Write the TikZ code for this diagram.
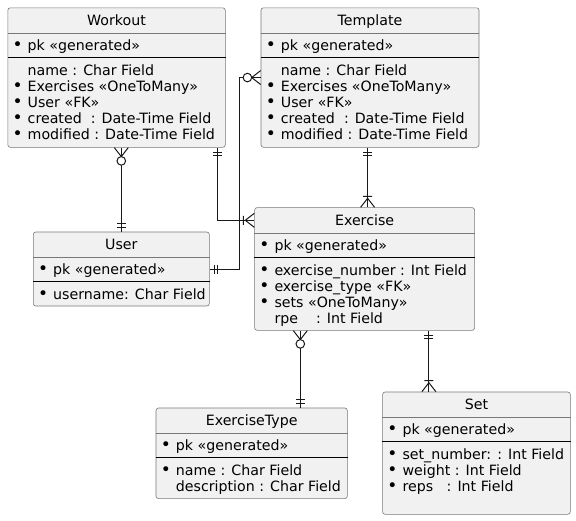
\documentclass[tikz,border=0pt]{standalone}
\usepackage{fontspec}
\setmainfont{DejaVu Sans}
\usetikzlibrary{positioning,calc}
\definecolor{erfill}{RGB}{241,241,241}
\definecolor{erline}{RGB}{24,24,24}
\definecolor{erborder}{RGB}{120,120,120}
\tikzset{
  er entity/.style={
    draw=erborder,
    fill=erfill,
    line width=0.6pt,
    rounded corners=2.5pt,
    inner sep=0pt,
  },
  er title/.style={anchor=base, inner sep=0pt, font=\fontsize{14.2}{16}\selectfont},
  er field/.style={anchor=base west, inner sep=0pt, font=\fontsize{14.2}{16}\selectfont},
  er head sep/.style={draw=erborder, line width=0.6pt},
  er key sep/.style={draw=black, line width=1pt},
  er link/.style={draw=erline, line width=1pt},
  er one/.pic={\draw[er link] (4.5,-4.5) -- (4.5,4.5) (8,-4.5) -- (8,4.5);},
  er one many/.pic={\draw[er link] (0,-7) -- (9,0) -- (0,7) (11,-4.5) -- (11,4.5);},
  er zero many/.pic={\draw[er link] (0,-7) -- (9,0) -- (0,7);
    \draw[er link, fill=white] (13.3,0) circle (4.3);},
}
\newcommand{\erbullet}{\llap{\scalebox{1.2}{•}\hspace{5pt}}}
% box, separators, title, key row and the other rows of one entity
\newcommand{\erentity}[6]{%
  \node[er entity, minimum width=#3pt, minimum height=#4pt, anchor=north west] (#1) at (#2) {};
  \draw[er head sep] ([yshift=-26pt]#1.north west) -- ([yshift=-26pt]#1.north east);
  \draw[er key sep] ([yshift=-50pt]#1.north west) -- ([yshift=-50pt]#1.north east);
  \node[er title] (#1-title) at ([yshift=-18pt]#1.north) {#5};
  \node[er field] (#1-key) at ([xshift=20pt,yshift=-43pt]#1.north west) {\erbullet pk «generated»};
  \foreach \row [count=\i] in {#6}
    \node[er field] (#1-row\i) at ([xshift=20pt,yshift=-52pt-16pt*\i]#1.north west) {\row};
}

\begin{document}
\begin{tikzpicture}[x=1pt,y=-1pt]
  \useasboundingbox (0,0) rectangle (576,520);

  \erentity{workout}{7.5,7.5}{217.5}{139.5}{Workout}{name : Char Field,
    \erbullet Exercises «OneToMany», \erbullet User «FK»,
    \erbullet created\ \ : Date-Time Field, \erbullet modified : Date-Time Field}
  \erentity{template}{260.7,7.5}{218}{139.5}{Template}{name : Char Field,
    \erbullet Exercises «OneToMany», \erbullet User «FK»,
    \erbullet created\ \ : Date-Time Field, \erbullet modified : Date-Time Field}
  \erentity{user}{33,231.7}{176}{74}{User}{\erbullet username: Char Field}
  \erentity{exercise}{254.3,207.3}{220}{122.7}{Exercise}{\erbullet exercise\_number : Int Field,
    \erbullet exercise\_type «FK», \erbullet sets «OneToMany», rpe\ \ \ \ : Int Field}
  \erentity{extype}{155.7,407.7}{191.3}{90.6}{ExerciseType}{\erbullet name : Char Field,
    description : Char Field}
  \erentity{set}{382.3,391.7}{187.7}{122.3}{Set}{\erbullet set\_number: : Int Field,
    \erbullet weight : Int Field, \erbullet reps\ \ \ : Int Field}

  % connector ends
  \coordinate (wo-us) at (user.north |- workout.south);
  \coordinate (wo-ex) at ([xshift=-8pt]workout.south east);
  \coordinate (ex-wo) at ([yshift=-13pt]exercise.north west);
  \coordinate (tp-us) at ([xshift=-21.4pt]template.west);
  \coordinate (tp-ex) at ([xshift=-2.4pt]template.south);
  \coordinate (ex-tp) at (tp-ex |- exercise.north);
  \coordinate (ex-et) at ([xshift=46pt]exercise.south west);
  \coordinate (et-ex) at (ex-et |- extype.north);
  \coordinate (ex-st) at ([xshift=-46pt]exercise.south east);
  \coordinate (st-ex) at (ex-st |- set.north);

  % relations
  \draw[er link] (wo-us) -- (user.north);
  \draw[er link] (wo-ex) |- (ex-wo);
  \draw[er link] (template.west) -- (tp-us) |- (user.east);
  \draw[er link] (tp-ex) -- (ex-tp);
  \draw[er link] (ex-et) -- (et-ex);
  \draw[er link] (ex-st) -- (st-ex);

  \pic[rotate=-90] at (wo-us) {er zero many};
  \pic[rotate=90] at (user.north) {er one};
  \pic[rotate=-90] at (wo-ex) {er one};
  \pic[rotate=180] at (ex-wo) {er one many};
  \pic[rotate=180] at (template.west) {er zero many};
  \pic at (user.east) {er one};
  \pic[rotate=-90] at (tp-ex) {er one};
  \pic[rotate=90] at (ex-tp) {er one many};
  \pic[rotate=-90] at (ex-et) {er zero many};
  \pic[rotate=90] at (et-ex) {er one};
  \pic[rotate=-90] at (ex-st) {er one};
  \pic[rotate=90] at (st-ex) {er one many};
\end{tikzpicture}
\end{document}
